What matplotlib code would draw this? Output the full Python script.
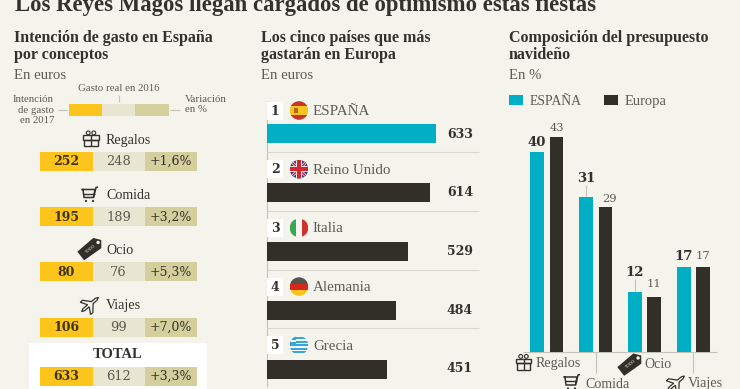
import matplotlib
matplotlib.use("Agg")
import matplotlib.pyplot as plt
from matplotlib.patches import Rectangle, Circle, Polygon
from matplotlib.transforms import Affine2D

# data
conceptos = ["Regalos", "Comida", "Ocio", "Viajes", "TOTAL"]
gasto_2017 = [252, 195, 80, 106, 633]
gasto_2016 = [248, 189, 76, 99, 612]
variacion = ["+1,6%", "+3,2%", "+5,3%", "+7,0%", "+3,3%"]
paises = ["ESPAÑA", "Reino Unido", "Italia", "Alemania", "Grecia"]
gasto_pais = [633, 614, 529, 484, 451]
grupos = ["Regalos", "Comida", "Ocio", "Viajes"]
espana = [40, 31, 12, 17]
europa = [43, 29, 11, 17]

W, H = 740, 389
BG = "#f4f4ec"; INK = "#33312b"; GREY = "#5d5b53"; LINE = "#d9d8cc"
TEAL = "#00afc6"; DARK = "#312f28"
YEL = "#fdc41c"; LIGHT = "#e8e5d0"; TAN = "#d5cf9e"
SLAB = ["DejaVu Serif"]
LIB = ["Liberation Serif"]

fig = plt.figure(figsize=(W / 100, H / 100), dpi=100, facecolor=BG)
px = fig.add_axes([0, 0, 1, 1])
px.set_xlim(0, W); px.set_ylim(H, 0); px.axis("off")


def t(x, y, s, size=10, color=INK, weight="normal", ha="left", va="center", fam=LIB, z=6, ma=None, sp=1.15):
    dy = 1 if fam is LIB else 0.5
    return px.text(x, y + dy, s, fontsize=size * 0.72, color=color, fontweight=weight,
                   ha=ha, va=va, family=fam, zorder=z, linespacing=sp, multialignment=ma)


def box(x0, y0, x1, y1, c, z=2):
    px.add_patch(Rectangle((x0, y0), x1 - x0, y1 - y0, fc=c, ec="none", zorder=z))


def ln(xs, ys, c=LINE, lw=0.8, z=3):
    px.plot(xs, ys, color=c, lw=lw, zorder=z, solid_capstyle="butt")


def gift(x, y, s=1.12):
    c = INK
    px.add_patch(Rectangle((x - 7 * s, y - 3 * s), 14 * s, 4 * s, fc="none", ec=c, lw=1, zorder=6))
    px.add_patch(Rectangle((x - 6 * s, y + 1 * s), 12 * s, 6 * s, fc="none", ec=c, lw=1, zorder=6))
    ln([x, x], [y - 3 * s, y + 7 * s], c, 1, 6)
    px.add_patch(Circle((x - 2.5 * s, y - 5 * s), 1.7 * s, fc="none", ec=c, lw=.8, zorder=6))
    px.add_patch(Circle((x + 2.5 * s, y - 5 * s), 1.7 * s, fc="none", ec=c, lw=.8, zorder=6))


def cart(x, y):
    c = INK
    px.plot([x - 8, x + 5, x + 3.5, x - 6, x - 7], [y - 5, y - 5, y + 3, y + 3, y - 5], color=c, lw=1.1, zorder=6)
    ln([x - 7, x + 4.5], [y - 1, y - 1], c, 1, 6)
    ln([x + 3.5, x + 6, x + 8], [y + 3, y - 7, y - 7.5], c, 1.1, 6)
    px.add_patch(Circle((x - 4, y + 6.5), 1.1, fc=c, ec="none", zorder=6))
    px.add_patch(Circle((x + 3, y + 6.5), 1.1, fc=c, ec="none", zorder=6))


def tag(x, y):
    tr = Affine2D().rotate_deg(-38).translate(x, y) + px.transData
    px.add_patch(Polygon([(-13, -5.5), (8, -6.5), (13, 0), (8, 6.5), (-13, 5.5)], fc=DARK, ec="none", zorder=6, transform=tr))
    px.add_patch(Circle((9, 0), 1.7, fc=BG, ec="none", zorder=7, transform=tr))
    px.text(x - 1, y + 1, "TODO", fontsize=3, color=LIGHT, rotation=38, ha="center", va="center", zorder=7)


def plane(x, y):
    pts = [(-11, 0), (-8, -1.3), (-2, -1.3), (-6, -8), (-3, -8), (3, -1.3), (8, -1.3),
           (11, 0), (8, 1.3), (3, 1.3), (-3, 8), (-6, 8), (-2, 1.3), (-8, 1.3)]
    tr = Affine2D().rotate_deg(-40).translate(x, y) + px.transData
    px.add_patch(Polygon(pts, fc=BG, ec=INK, lw=0.9, zorder=6, transform=tr))


def flag(x, y, pais, r=9.3):
    clip = Circle((x, y), r, transform=px.transData)
    def st(y0, y1, c, x0=-r, x1=r):
        p = Rectangle((x + x0, y + y0), x1 - x0, y1 - y0, fc=c, ec="none", zorder=6)
        px.add_patch(p); p.set_clip_path(clip)
    if pais == "ESPAÑA":
        st(-r, -4.5, "#c8352b"); st(-4.5, 4.5, "#f7c51e"); st(4.5, r, "#c8352b"); st(-2.5, 2.5, "#b5651d", -5, -1)
    elif pais == "Reino Unido":
        st(-r, r, "#2f3f8f")
        for sgn in (1, -1):
            a, = px.plot([x - r, x + r], [y - sgn * r, y + sgn * r], color="#e8e8e8", lw=2, zorder=6)
            a.set_clip_path(clip)
            a, = px.plot([x - r, x + r], [y - sgn * r, y + sgn * r], color="#d22630", lw=1, zorder=6)
            a.set_clip_path(clip)
        st(-r, r, "#e8e8e8", -3, 3); st(-3, 3, "#e8e8e8")
        st(-r, r, "#d22630", -2, 2); st(-2, 2, "#d22630")
    elif pais == "Italia":
        st(-r, r, "#3aa655", -r, -3); st(-r, r, "#f7f7f2", -3, 3); st(-r, r, "#d0312d", 3, r)
    elif pais == "Alemania":
        st(-r, -3, "#55534f"); st(-3, 3, "#d8261c"); st(3, r, "#f7c51e")
    else:
        st(-r, r, "#f7f7f2")
        for k in (-8, -4.4, -0.9, 2.6, 6.1):
            st(k, k + 1.8, "#35a7dc")
        st(-r, -1, "#35a7dc", -r, -3); st(-5.8, -3.6, "#f7f7f2", -r, -3)


# titulo
t(15, 4.5, "Los Reyes Magos llegan cargados de optimismo estas fiestas", 22.8, INK, "bold")

# panel 1
t(14, 37, "Intención de gasto en España", 16, INK, "bold")
t(14, 54, "por conceptos", 16, INK, "bold")
t(14, 74, "En euros", 14.8, GREY)
t(119, 87.5, "Gasto real en 2016", 10.8, GREY, ha="center")
ln([118.5, 118.5], [95, 102], "#c4c3b6")
t(54, 109, "Intención\nde gasto\nen 2017", 10.8, GREY, ha="right", ma="right", sp=1.22)
t(185, 103.5, "Variación\nen %", 10.8, GREY, sp=1.22)
ln([58, 67], [109.5, 109.5], "#c4c3b6"); ln([170, 180], [109.5, 109.5], "#c4c3b6")
box(69, 104, 102, 116, YEL); box(102, 104, 135, 116, LIGHT); box(135, 104, 169, 116, TAN)

box(29, 343, 207, H, "#ffffff", 1)
row_y = [161, 216.5, 271.5, 327, 376]
label_y = [139, 194, 249.5, 304.5, 354]
col_x = [40, 92.5, 144.5, 197]
for i, c in enumerate(conceptos):
    y = row_y[i]
    box(col_x[0], y - 9.5, col_x[1], y + 9.5, YEL)
    box(col_x[1], y - 9.5, col_x[2], y + 9.5, LIGHT)
    box(col_x[2], y - 9.5, col_x[3], y + 9.5, TAN)
    t((col_x[0] + col_x[1]) / 2, y, str(gasto_2017[i]), 12.5, "#3a3420", "bold", "center", fam=SLAB)
    t((col_x[1] + col_x[2]) / 2, y, str(gasto_2016[i]), 13, GREY, ha="center", fam=SLAB)
    t((col_x[2] + col_x[3]) / 2, y, variacion[i], 12.5, INK, ha="center", fam=SLAB)
    if c == "TOTAL":
        t(118, label_y[i], c, 14.5, INK, "bold", "center")
    else:
        t(106, label_y[i], c, 14, INK)
gift(91, 138.5); cart(90, 194.5); tag(91, 248); plane(90, 304.5)

# panel 2
t(261, 37, "Los cinco países que más", 16, INK, "bold")
t(261, 54, "gastarán en Europa", 16, INK, "bold")
t(261, 74, "En euros", 14.8, GREY)

bar_x0, bar_x1, bar_y0, bar_y1 = 267, 479, 102, 389
ax_b = fig.add_axes([bar_x0 / W, 1 - bar_y1 / H, (bar_x1 - bar_x0) / W, (bar_y1 - bar_y0) / H])
ax_b.set_facecolor("none"); ax_b.axis("off")
ax_b.set_xlim(0, (bar_x1 - bar_x0) / 0.2662)
ax_b.set_ylim((bar_y1 - bar_y0) / 58.9, 0)
pos = [i + 0.535 for i in range(len(paises))]
ax_b.barh(pos, gasto_pais, height=0.322, color=[TEAL] + [DARK] * 4, lw=0)

ln([266.5, 266.5], [101, 387], "#c4c3b6")
for i, p in enumerate(paises):
    y = 110.5 + i * 58.7
    if i:
        ln([267, 479], [y - 17, y - 17])
    box(267, y - 9, 283, y + 9, "#ffffff", 3)
    t(275, y, str(i + 1), 12.5, INK, "bold", "center", fam=SLAB)
    flag(299, y, p)
    t(313, y, p, 15, GREY)
    t(473, y + 23, str(gasto_pais[i]), 12.5, INK, "bold", "right", fam=SLAB)

# panel 3
t(509, 37, "Composición del presupuesto", 16, INK, "bold")
t(509, 54, "navideño", 16, INK, "bold")
t(509, 74, "En %", 14.8, GREY)
box(509, 95, 523, 105, TEAL); t(529.5, 100, "ESPAÑA", 13.8, GREY)
box(604, 95, 618, 105, DARK); t(624.5, 100, "Europa", 14.5, GREY)

cx0, cx1, cy0, cy1 = 523, 717, 131.7, 351.7
ax_c = fig.add_axes([cx0 / W, 1 - cy1 / H, (cx1 - cx0) / W, (cy1 - cy0) / H])
ax_c.set_facecolor("none"); ax_c.axis("off")
ax_c.set_xlim(cx0, cx1); ax_c.set_ylim(0, 44)
gx = [546.8 + i * 48.9 for i in range(4)]
ax_c.bar([g - 9.8 for g in gx], espana, width=13.8, color=TEAL, lw=0)
ax_c.bar([g + 9.8 for g in gx], europa, width=13.8, color=DARK, lw=0)
ln([cx0, cx1], [351.7, 351.7], "#c4c3b6")

# etiquetas de valor
ylab = lambda v: cy1 - v * 5
off_es = [10, 19, 20, 11]
off_eu = [9, 8, 13, 11]
for i in range(4):
    t(gx[i] - 9.8, ylab(espana[i]) - off_es[i], str(espana[i]), 13.2, INK, "bold", "center", fam=SLAB)
    t(gx[i] + 9.8 + (4 if i == 1 else 0), ylab(europa[i]) - off_eu[i], str(europa[i]), 11.5, GREY, ha="center", fam=SLAB)
ln([586, 586], [185, 196], "#c4c3b6"); ln([634.5, 634.5], [279, 291], "#c4c3b6")

# categorias
ln([595.5, 595.5], [352, 373], "#c4c3b6"); ln([693, 693], [352, 373], "#c4c3b6")
gift(523.5, 362); t(536, 363, grupos[0], 14, GREY)
cart(572, 382); t(585, 383, grupos[1], 14, GREY)
tag(631, 363.5); t(644, 363, grupos[2], 14, GREY)
plane(676, 383); t(688, 383, grupos[3], 14, GREY)

fig.savefig("out.png", dpi=100, facecolor=BG)
